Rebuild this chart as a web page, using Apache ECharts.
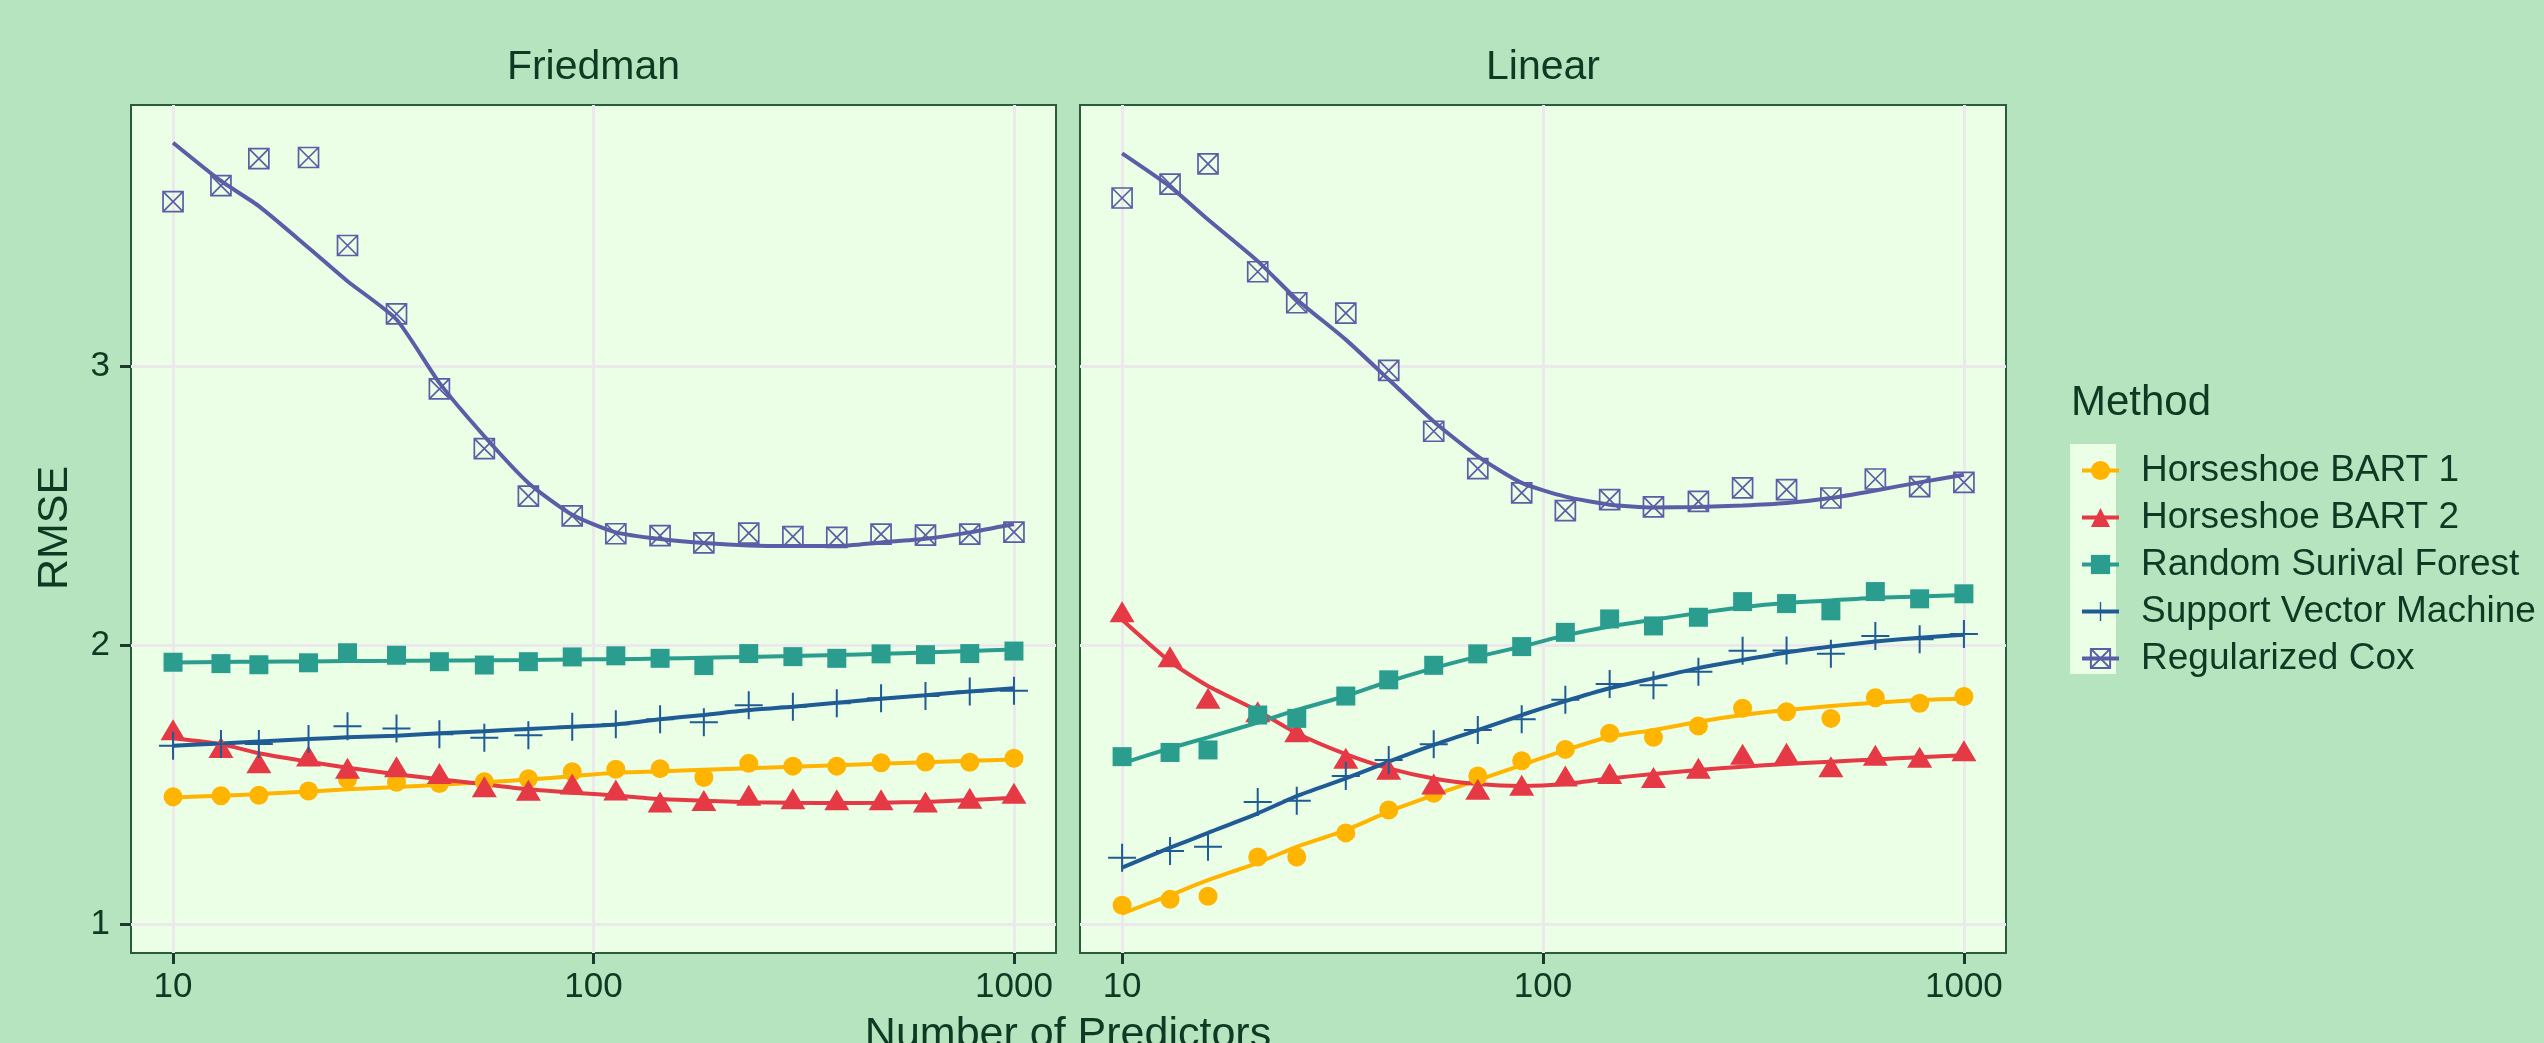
<!DOCTYPE html>
<html><head><meta charset="utf-8">
<script src="https://cdn.jsdelivr.net/npm/echarts@6/dist/echarts.min.js"></script>
<style>html,body{margin:0;padding:0;background:#B5E4BE;} #c{width:2544px;height:1043px;}</style>
</head><body><div id="c"></div>
<script>
// ---- data ----
const predictors = [10, 13, 16, 21, 26, 34, 43, 55, 70, 89, 113, 144, 183, 234, 298, 379, 483, 616, 785, 1000];
const panels = ['Friedman', 'Linear'];
const methods = ['Horseshoe BART 1', 'Horseshoe BART 2', 'Random Surival Forest', 'Support Vector Machine', 'Regularized Cox'];
const xTickValues = [10, 100, 1000];
const yTickValues = [1, 2, 3];

// Friedman panel: observed points and smoothed fit
const bart1PtsFriedman = [1.457, 1.461, 1.463, 1.478, 1.520, 1.509, 1.505, 1.511, 1.522, 1.547, 1.556, 1.558, 1.526, 1.577, 1.567, 1.567, 1.579, 1.582, 1.581, 1.595];
const bart1FitFriedman = [1.455, 1.461, 1.467, 1.476, 1.484, 1.492, 1.500, 1.509, 1.519, 1.531, 1.543, 1.548, 1.554, 1.559, 1.565, 1.570, 1.576, 1.581, 1.586, 1.591];
const bart2PtsFriedman = [1.697, 1.634, 1.579, 1.603, 1.559, 1.565, 1.541, 1.493, 1.481, 1.503, 1.482, 1.439, 1.444, 1.463, 1.450, 1.447, 1.447, 1.439, 1.452, 1.470];
const bart2FitFriedman = [1.667, 1.646, 1.613, 1.583, 1.561, 1.538, 1.520, 1.502, 1.484, 1.472, 1.462, 1.449, 1.443, 1.438, 1.436, 1.435, 1.436, 1.439, 1.446, 1.454];
const rsfPtsFriedman = [1.939, 1.934, 1.930, 1.937, 1.973, 1.964, 1.941, 1.929, 1.941, 1.958, 1.962, 1.953, 1.927, 1.970, 1.959, 1.953, 1.969, 1.966, 1.970, 1.979];
const rsfFitFriedman = [1.938, 1.940, 1.941, 1.942, 1.943, 1.944, 1.945, 1.946, 1.947, 1.949, 1.950, 1.952, 1.955, 1.958, 1.961, 1.965, 1.969, 1.974, 1.979, 1.985];
const svmPtsFriedman = [1.640, 1.646, 1.646, 1.664, 1.710, 1.702, 1.681, 1.669, 1.678, 1.708, 1.717, 1.735, 1.724, 1.785, 1.780, 1.792, 1.810, 1.818, 1.834, 1.837];
const svmFitFriedman = [1.640, 1.648, 1.655, 1.664, 1.670, 1.676, 1.685, 1.692, 1.700, 1.708, 1.716, 1.735, 1.750, 1.768, 1.780, 1.794, 1.808, 1.821, 1.834, 1.846];
const coxPtsFriedman = [3.588, 3.645, 3.742, 3.746, 3.431, 3.186, 2.918, 2.704, 2.534, 2.463, 2.399, 2.392, 2.366, 2.401, 2.389, 2.386, 2.398, 2.394, 2.398, 2.405];
const coxFitFriedman = [3.799, 3.662, 3.572, 3.423, 3.303, 3.166, 2.939, 2.748, 2.581, 2.467, 2.404, 2.380, 2.366, 2.357, 2.355, 2.355, 2.368, 2.381, 2.404, 2.434];

// Linear panel
const bart1PtsLinear = [1.069, 1.090, 1.101, 1.242, 1.242, 1.328, 1.410, 1.470, 1.532, 1.586, 1.627, 1.685, 1.670, 1.711, 1.774, 1.762, 1.738, 1.812, 1.792, 1.816];
const bart1FitLinear = [1.039, 1.105, 1.159, 1.221, 1.278, 1.338, 1.404, 1.463, 1.517, 1.571, 1.624, 1.672, 1.696, 1.726, 1.750, 1.768, 1.782, 1.794, 1.804, 1.808];
const bart2PtsLinear = [2.120, 1.959, 1.810, 1.762, 1.690, 1.595, 1.556, 1.503, 1.484, 1.499, 1.532, 1.541, 1.526, 1.559, 1.610, 1.613, 1.565, 1.606, 1.599, 1.622];
const bart2FitLinear = [2.091, 1.941, 1.854, 1.765, 1.685, 1.610, 1.559, 1.523, 1.503, 1.496, 1.503, 1.523, 1.539, 1.553, 1.565, 1.575, 1.583, 1.591, 1.599, 1.606];
const rsfPtsLinear = [1.601, 1.616, 1.625, 1.750, 1.738, 1.818, 1.876, 1.928, 1.969, 1.995, 2.046, 2.094, 2.069, 2.100, 2.156, 2.149, 2.123, 2.192, 2.166, 2.184];
const rsfFitLinear = [1.577, 1.631, 1.670, 1.723, 1.768, 1.818, 1.870, 1.918, 1.959, 1.995, 2.035, 2.067, 2.091, 2.115, 2.136, 2.151, 2.160, 2.170, 2.174, 2.180];
const svmPtsLinear = [1.239, 1.263, 1.278, 1.439, 1.443, 1.532, 1.589, 1.645, 1.696, 1.735, 1.805, 1.861, 1.857, 1.905, 1.980, 1.981, 1.969, 2.033, 2.021, 2.040];
const svmFitLinear = [1.204, 1.275, 1.328, 1.398, 1.460, 1.523, 1.583, 1.643, 1.696, 1.750, 1.800, 1.846, 1.882, 1.918, 1.947, 1.974, 1.995, 2.013, 2.027, 2.037];
const coxPtsLinear = [3.601, 3.651, 3.723, 3.337, 3.226, 3.189, 2.984, 2.766, 2.632, 2.545, 2.482, 2.521, 2.495, 2.515, 2.563, 2.557, 2.527, 2.595, 2.568, 2.583];
const coxFitLinear = [3.761, 3.642, 3.524, 3.375, 3.238, 3.094, 2.951, 2.801, 2.676, 2.581, 2.532, 2.503, 2.493, 2.495, 2.500, 2.509, 2.527, 2.554, 2.583, 2.610];

// ---- styling ----
const TEXT = '#0c3a22';
const FONT = '"Liberation Sans", Arial, Helvetica, sans-serif';
const PLUS = 'path://M0,13 L28,13 L28,15 L0,15 Z M13,0 L15,0 L15,28 L13,28 Z';
const BOXX = 'path://M0,0 L20,0 L20,20 L0,20 Z M0,0 L20,20 M20,0 L0,20';
const methodStyle = {
  'Horseshoe BART 1':       { color: '#FFB400', symbol: 'circle',   size: 19 },
  'Horseshoe BART 2':       { color: '#E63946', symbol: 'triangle', size: [25, 21] },
  'Random Surival Forest':  { color: '#2A9D8F', symbol: 'rect',     size: 19 },
  'Support Vector Machine': { color: '#1F5B94', symbol: PLUS,       size: 28 },
  'Regularized Cox':        { color: '#5B5EA6', symbol: BOXX,       size: 20, hollow: true }
};
const dataByPanel = [
  { pts: [bart1PtsFriedman, bart2PtsFriedman, rsfPtsFriedman, svmPtsFriedman, coxPtsFriedman],
    fit: [bart1FitFriedman, bart2FitFriedman, rsfFitFriedman, svmFitFriedman, coxFitFriedman] },
  { pts: [bart1PtsLinear, bart2PtsLinear, rsfPtsLinear, svmPtsLinear, coxPtsLinear],
    fit: [bart1FitLinear, bart2FitLinear, rsfFitLinear, svmFitLinear, coxFitLinear] }
];
function pairs(ys) { return predictors.map((x, i) => [x, ys[i]]); }
function itemStyleFor(st) {
  return st.hollow ? { color: 'rgba(0,0,0,0)', borderColor: st.color, borderWidth: 1.7, opacity: 1 }
                   : { color: st.color, opacity: 1 };
}

const series = [];
// smoothed fit lines first (legend picks up line + symbol icon from these)
panels.forEach((p, pi) => {
  methods.forEach((m, mi) => {
    const st = methodStyle[m];
    series.push({
      type: 'line', name: m, xAxisIndex: pi, yAxisIndex: pi,
      data: pairs(dataByPanel[pi].fit[mi]), smooth: 0.2, showSymbol: false,
      symbol: st.symbol, symbolSize: st.size,
      itemStyle: itemStyleFor(st),
      lineStyle: { color: st.color, width: 4 },
      z: 2, silent: true
    });
  });
});
panels.forEach((p, pi) => {
  methods.forEach((m, mi) => {
    const st = methodStyle[m];
    series.push({
      type: 'scatter', name: m, xAxisIndex: pi, yAxisIndex: pi,
      data: pairs(dataByPanel[pi].pts[mi]), symbol: st.symbol, symbolSize: st.size,
      itemStyle: itemStyleFor(st), z: 3, silent: true
    });
  });
});

const gridBox = [
  { left: 131, top: 105, width: 925, height: 848 },
  { left: 1080, top: 105, width: 926, height: 848 }
];
const GRIDLINE = '#ECE9EC';
const option = {
  backgroundColor: '#B5E4BE',
  animation: false,
  textStyle: { fontFamily: FONT },
  grid: gridBox.map(g => Object.assign({
    show: true, backgroundColor: '#EAFFE5', borderColor: '#2B5A3C', borderWidth: 2,
    containLabel: false, outerBoundsMode: 'none'
  }, g)),
  xAxis: panels.map((p, pi) => ({
    type: 'log', logBase: 10, gridIndex: pi, min: Math.pow(10, 0.9), max: Math.pow(10, 3.1),
    axisLine: { show: false },
    axisTick: { show: true, length: 11, customValues: xTickValues, lineStyle: { color: '#1b3a28', width: 3 } },
    axisLabel: { show: true, customValues: xTickValues, fontSize: 35, color: TEXT, margin: 17, fontFamily: FONT,
      formatter: v => String(Math.round(v)) },
    splitLine: { show: true, lineStyle: { color: GRIDLINE, width: 3 } },
    minorTick: { show: false }, minorSplitLine: { show: false }
  })),
  yAxis: panels.map((p, pi) => ({
    type: 'value', gridIndex: pi, min: 0.898, max: 3.934,
    axisLine: { show: false },
    axisTick: { show: pi === 0, length: 11, customValues: yTickValues, lineStyle: { color: '#1b3a28', width: 3 } },
    axisLabel: { show: pi === 0, customValues: yTickValues, fontSize: 35, color: TEXT, margin: 21, fontFamily: FONT },
    splitLine: { show: true, lineStyle: { color: GRIDLINE, width: 3 } }
  })),
  legend: {
    data: methods, orient: 'vertical', left: 2075, top: 447,
    itemWidth: 37, itemHeight: 24, itemGap: 10,
    lineStyle: { width: 4 },
    textStyle: { fontSize: 37, color: TEXT, fontFamily: FONT, lineHeight: 36, padding: [0, 0, 0, 17] },
    selectedMode: false
  },
  graphic: [
    { type: 'rect', z: -1, shape: { x: 2070, y: 444, width: 46, height: 230 }, style: { fill: '#EAFFE5' } },
    { type: 'text', x: 2071, y: 403, style: { text: 'Method', font: '42px ' + FONT, fill: TEXT, verticalAlign: 'middle', align: 'left' } },
    { type: 'text', x: 593.5, y: 68, style: { text: panels[0], font: '41px ' + FONT, fill: TEXT, verticalAlign: 'middle', align: 'center' } },
    { type: 'text', x: 1543, y: 68, style: { text: panels[1], font: '41px ' + FONT, fill: TEXT, verticalAlign: 'middle', align: 'center' } },
    { type: 'text', x: 1068, y: 1035, style: { text: 'Number of Predictors', font: '43px ' + FONT, fill: TEXT, verticalAlign: 'middle', align: 'center' } },
    { type: 'text', x: 55, y: 528, rotation: Math.PI / 2, style: { text: 'RMSE', font: '43px ' + FONT, fill: TEXT, verticalAlign: 'middle', align: 'center' } }
  ],
  series: series
};
const chart = echarts.init(document.getElementById('c'), null, { renderer: 'canvas' });
chart.setOption(option);
</script>
</body></html>
